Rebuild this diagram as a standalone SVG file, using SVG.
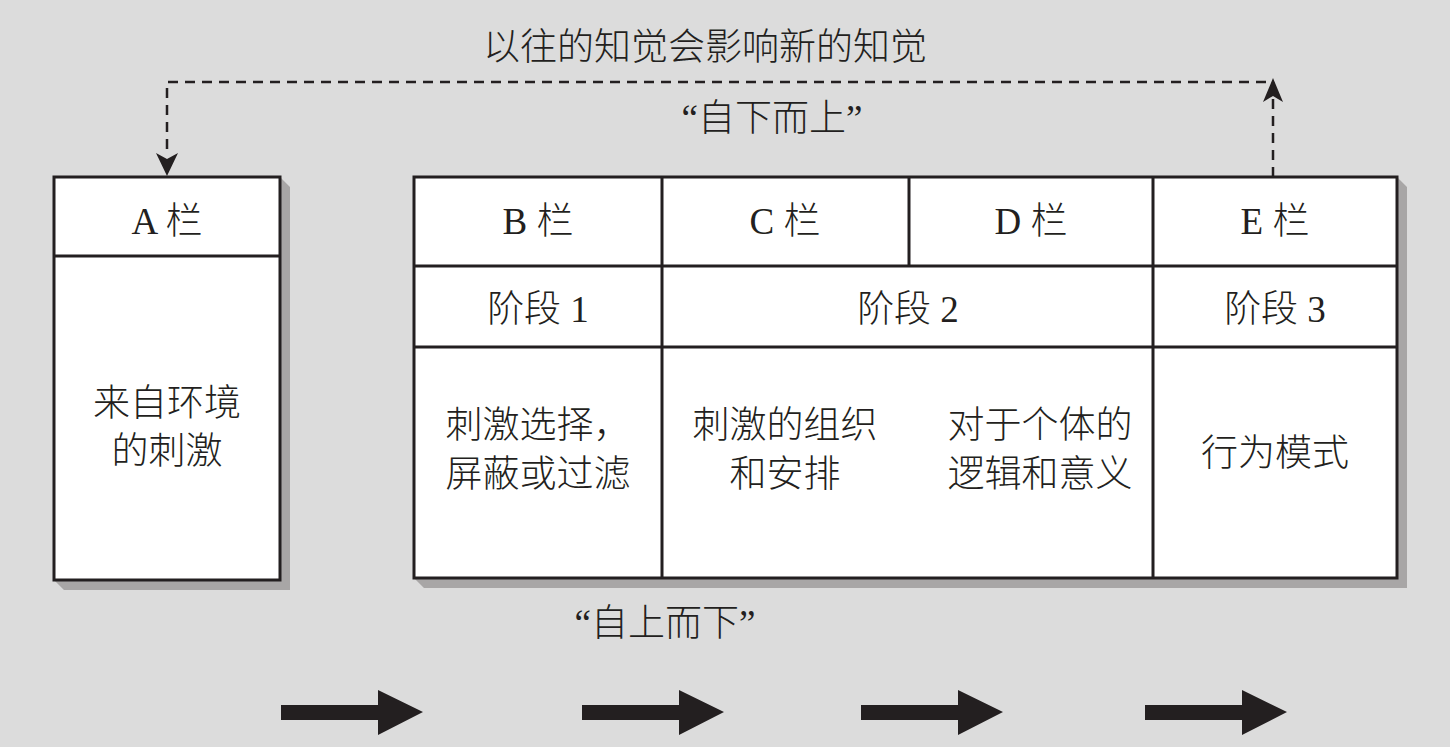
<svg xmlns="http://www.w3.org/2000/svg" width="1450" height="747" viewBox="0 0 1450 747">
<style>
text{font-family:"Liberation Serif","Noto Sans CJK SC",serif;font-size:37px;font-weight:300;fill:#231f20;text-anchor:middle}
.box{fill:#fff;stroke:#231f20;stroke-width:3}
.shadow{fill:#a8a6a6}
.ln{stroke:#231f20;stroke-width:3;fill:none}
.dash{stroke:#231f20;stroke-width:2.5;fill:none;stroke-dasharray:10 7}
.big{fill:#231f20}
</style>
<rect width="1450" height="747" fill="#dcdcdc"/>
<text x="705" y="60">以往的知觉会影响新的知觉</text>
<text x="772" y="131">“自下而上”</text>
<text x="665" y="636">“自上而下”</text>
<g id="connectors">
<polyline class="dash" points="1273,177 1273,82 167,82 167,150"/>
<path d="M1273,78 L1283,102 L1273,96 L1263,102 Z" fill="#231f20"/>
<path d="M167,176 L156,153 L167,159 L178,153 Z" fill="#231f20"/>
</g>
<g id="nodeA">
<polygon class="shadow" points="280,177 290,187 290,590 64,590 54,580 280,580"/>
<rect class="box" x="54" y="177" width="226" height="403"/>
<line class="ln" x1="54" y1="256" x2="280" y2="256"/>
<text x="167" y="234">A 栏</text>
<text x="167" y="416">来自环境</text>
<text x="167" y="464">的刺激</text>
</g>
<g id="table">
<polygon class="shadow" points="1397,177 1407,187 1407,588 424,588 414,578 1397,578"/>
<rect class="box" x="414" y="177" width="983" height="401"/>
<line class="ln" x1="414" y1="266" x2="1397" y2="266"/>
<line class="ln" x1="414" y1="347" x2="1397" y2="347"/>
<line class="ln" x1="662" y1="177" x2="662" y2="578"/>
<line class="ln" x1="909" y1="177" x2="909" y2="266"/>
<line class="ln" x1="1153" y1="177" x2="1153" y2="578"/>
</g>
<g id="colB"><text x="538" y="234">B 栏</text><text x="538" y="322">阶段 1</text><text x="538" y="438">刺激选择，</text><text x="538" y="487">屏蔽或过滤</text></g>
<g id="colC"><text x="785" y="234">C 栏</text><text x="785" y="438">刺激的组织</text><text x="785" y="487">和安排</text></g>
<g id="stage2"><text x="908" y="322">阶段 2</text></g>
<g id="colD"><text x="1031" y="234">D 栏</text><text x="1040" y="438">对于个体的</text><text x="1040" y="487">逻辑和意义</text></g>
<g id="colE"><text x="1275" y="234">E 栏</text><text x="1275" y="322">阶段 3</text><text x="1275" y="466">行为模式</text></g>
<g id="arrows">
<path class="big" d="M281,705 H378 V690 L423,712 L378,735 V720 H281 Z"/>
<path class="big" d="M582,705 H679 V690 L724,712 L679,735 V720 H582 Z"/>
<path class="big" d="M861,705 H958 V690 L1003,712 L958,735 V720 H861 Z"/>
<path class="big" d="M1145,705 H1242 V690 L1287,712 L1242,735 V720 H1145 Z"/>
</g>
</svg>
